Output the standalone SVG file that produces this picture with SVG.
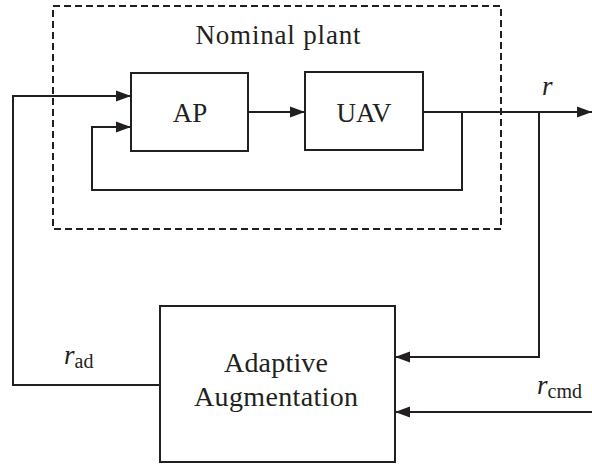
<svg xmlns="http://www.w3.org/2000/svg" width="592" height="464" viewBox="0 0 592 464">
<style>
.box{fill:none;stroke:#231f20;stroke-width:2}
.ln{fill:none;stroke:#231f20;stroke-width:2}
.dash{fill:none;stroke:#231f20;stroke-width:2;stroke-dasharray:7,4}
</style>
<defs>
<marker id="arr" markerWidth="16" markerHeight="12" refX="15" refY="6" orient="auto" markerUnits="userSpaceOnUse">
<path d="M0,0.5 L15,6 L0,11.5 Z" fill="#231f20"/>
</marker>
</defs>
<g id="plant">
<rect class="dash" x="53" y="6" width="448" height="223"/>
<text font-family="Liberation Serif, serif" font-size="27" fill="#231f20" x="278" y="44" text-anchor="middle" textLength="165">Nominal plant</text>
</g>
<g id="AP">
<rect class="box" x="131" y="73" width="117" height="78"/>
<text font-family="Liberation Serif, serif" font-size="27" fill="#231f20" x="190" y="122" text-anchor="middle">AP</text>
</g>
<g id="UAV">
<rect class="box" x="305" y="72" width="118" height="78"/>
<text font-family="Liberation Serif, serif" font-size="27" fill="#231f20" x="364" y="122" text-anchor="middle">UAV</text>
</g>
<g id="adaptive">
<rect class="box" x="160" y="306" width="235" height="156"/>
<text font-family="Liberation Serif, serif" font-size="28" fill="#231f20" x="276" y="372" text-anchor="middle" textLength="104">Adaptive</text>
<text font-family="Liberation Serif, serif" font-size="28" fill="#231f20" x="276" y="406" text-anchor="middle" textLength="164">Augmentation</text>
</g>
<g id="connectors">
<path class="ln" d="M248,112 H305" marker-end="url(#arr)"/>
<path class="ln" d="M423,112 H592" marker-end="url(#arr)"/>
<path class="ln" d="M462,112 V190 H92 V127 H131" marker-end="url(#arr)"/>
<path class="ln" d="M539,112 V357 H395" marker-end="url(#arr)"/>
<path class="ln" d="M592,412 H395" marker-end="url(#arr)"/>
<path class="ln" d="M161,385 H13 V96 H131" marker-end="url(#arr)"/>
</g>
<g id="labels">
<text font-family="Liberation Serif, serif" font-size="27" font-style="italic" fill="#231f20" x="542" y="95">r</text>
<text font-family="Liberation Serif, serif" fill="#231f20" x="64" y="364"><tspan font-size="27" font-style="italic">r</tspan><tspan font-size="20" dy="4">ad</tspan></text>
<text font-family="Liberation Serif, serif" fill="#231f20" x="537" y="394"><tspan font-size="27" font-style="italic">r</tspan><tspan font-size="20" dy="4">cmd</tspan></text>
</g>
</svg>
